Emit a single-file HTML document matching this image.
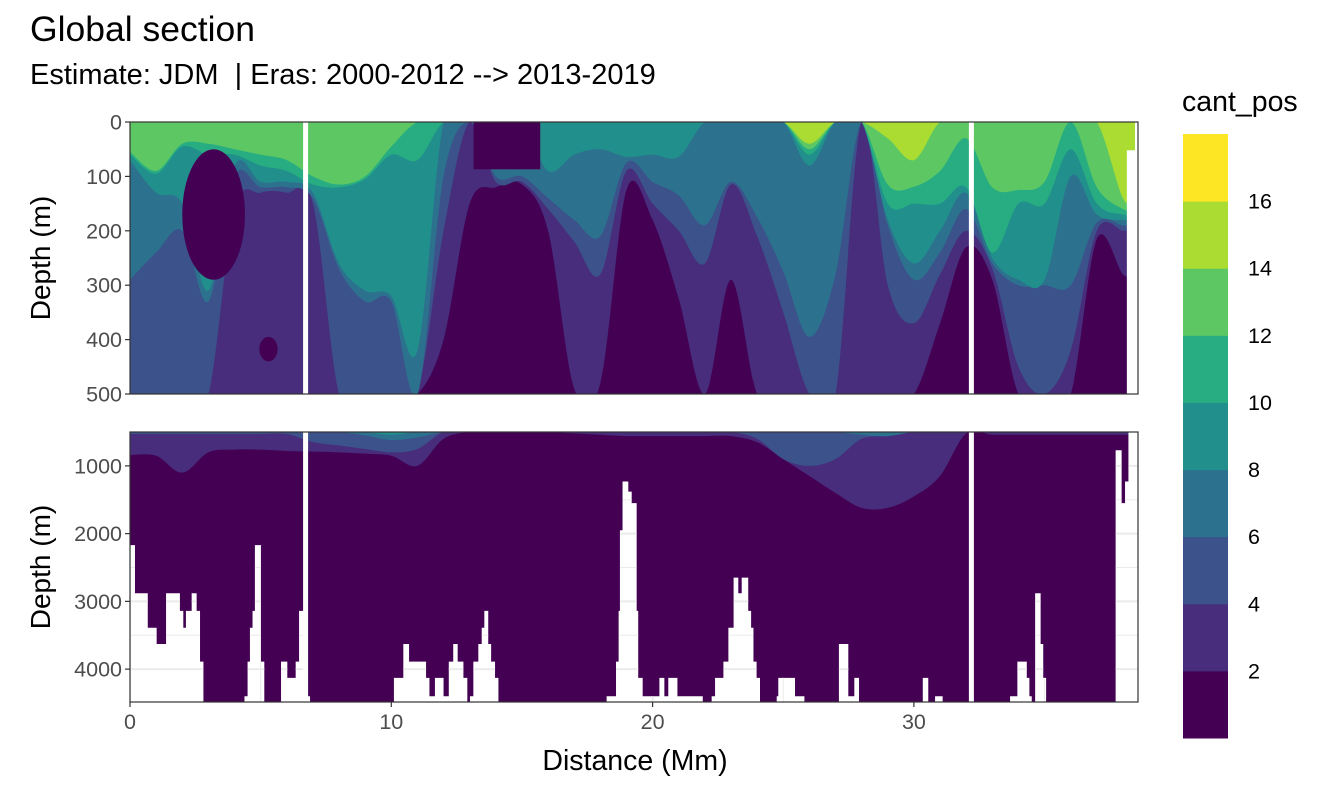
<!DOCTYPE html>
<html><head><meta charset="utf-8"><style>
body{margin:0;background:#fff;font-family:"Liberation Sans",sans-serif}
svg{display:block}
</style></head><body>
<svg id="chart" width="1344" height="806" xmlns="http://www.w3.org/2000/svg">
<text x="30" y="41" font-size="35.5" fill="#000">Global section</text>
<text x="30" y="84" font-size="29" fill="#000" xml:space="preserve" style="white-space:pre">Estimate: JDM  | Eras: 2000-2012 --&gt; 2013-2019</text>
<g id="topPanel"></g>
<g id="botPanel"></g>
<g id="axes"></g>
<g id="legend"></g>
</svg>
<script>
// ---- data ----
const stations=[0,1,2,3,4,5,6,7,8,9,10,11,12,13,14,15,16,17,18,19,20,21,22,23,24,25,26,27,28,29,30,31,32,33,34,35,36,37,38];
const d2 =[500,500,500,500,500,500,500,500,500,500,500,500,400,150,120,115,200,490,480,125,180,325,500,290,500,500,500,500,500,500,500,370,230,290,500,500,500,215,280];
const d4 =[500,500,500,500,160,130,130,150,500,500,500,500,200,0,110,110,160,220,280,90,150,200,260,115,210,350,500,500,0,300,370,280,200,270,450,500,420,200,200];
const d6 =[290,240,200,330,100,120,120,140,270,330,330,500,100,0,100,100,140,180,210,75,110,135,190,110,175,275,395,280,0,190,290,240,160,260,300,300,300,185,190];
const d8 =[70,130,150,310,80,110,110,130,260,310,320,420,0,0,0,0,90,60,50,64,60,64,0,0,0,0,80,0,0,180,260,200,130,250,290,290,100,170,180];
const d10=[60,95,45,60,60,80,90,115,120,105,60,70,0,0,0,0,0,0,0,0,0,0,0,0,0,0,60,0,0,150,150,150,120,240,150,150,50,150,170];
const d12=[55,90,40,40,50,60,70,100,115,100,45,0,0,0,0,0,0,0,0,0,0,0,0,0,0,0,50,0,0,115,119,90,30,120,125,110,0,120,160];
const d14=[0,0,0,0,0,0,0,0,0,0,0,0,0,0,0,0,0,0,0,0,0,0,0,0,0,0,40,0,0,30,70,0,0,0,0,0,0,0,140];
const blobX=[3.2,5.3];
const blobTop=[50,395];
const blobBottom=[290,440];
const blobHalfWidth=[1.2,0.35];
const capX0=13.15, capX1=15.7, capDepth=87;
const b2=[840,850,1100,800,760,760,780,790,800,820,850,1000,600,500,500,500,500,520,540,560,560,560,560,560,650,900,1150,1400,1620,1620,1450,1150,520,540,540,540,540,540,540];
const b4=[530,530,530,530,530,530,530,650,700,750,800,750,500,500,500,500,500,500,500,500,500,500,500,500,600,900,1000,900,600,560,500,500,500,500,500,500,500,500,500];
const b6=[500,500,500,500,500,500,500,500,500,550,620,580,500,500,500,500,500,500,500,500,500,500,500,500,500,500,500,500,540,560,500,500,500,500,500,500,500,500,500];
const b8=[500,500,500,500,500,500,500,500,500,500,540,500,500,500,500,500,500,500,500,500,500,500,500,500,500,500,500,500,500,500,500,500,500,500,500,500,500,500,500];
const floorX=[0,0.19,0.68,1.02,1.38,1.91,2.04,2.14,2.36,2.55,2.68,2.81,4.38,4.50,4.59,4.69,4.78,5.01,5.14,5.78,6.02,6.34,6.47,6.76,6.89,10.1,10.46,10.68,11.33,11.46,11.67,12.0,12.2,12.37,12.54,12.76,12.91,13.01,13.14,13.33,13.46,13.56,13.71,13.82,13.97,14.1,18.24,18.6,18.7,18.75,18.85,19.07,19.2,19.39,19.45,19.62,20.26,20.45,20.6,20.95,21.92,22.26,22.39,22.71,22.9,23.1,23.28,23.41,23.66,23.77,23.86,23.98,24.11,24.75,24.81,25.45,25.81,27.13,27.49,27.72,27.9,30.34,30.55,30.81,31.1,33.68,33.96,34.32,34.42,34.51,34.64,34.85,34.95,35.06,37.72,37.95,38.08,38.21];
const floorD=[2170,2880,3390,3630,2880,3140,3390,3140,2880,3140,3890,4500,4400,3890,3390,3140,2170,3890,4500,3890,4130,3890,3140,4400,4500,4130,3630,3890,4130,4400,4130,4400,3890,3630,3890,4130,4500,4400,3890,3630,3390,3140,3630,3890,4130,4500,4400,3890,3140,1950,1230,1380,1550,3140,4130,4400,4130,4400,4130,4400,4500,4400,4130,3890,3390,2650,2880,2650,3140,3390,3890,4130,4500,4400,4130,4400,4500,3630,4400,4130,4500,4130,4500,4400,4500,4400,3890,4130,4400,4500,2880,3630,4130,4500,770,1550,1230,500];
const gapX=[6.72,32.2];
const xMax=38.46;
const topFloorX=38.15, topFloorD=52;
const xTicks=[0,10,20,30];
const topTicks=[0,100,200,300,400,500];
const botTicks=[1000,2000,3000,4000];
const legendBreaks=[2,4,6,8,10,12,14,16];
const colors=["#440154","#472D7B","#3B528B","#2C728E","#21908C","#27AD81","#5DC863","#AADC32","#FDE725"];

// ---- scales ----
const X0=130,X1=1138,pxPerMm=26.13;
const xs=v=>X0+v*pxPerMm;
const T0=122,T1=394; const yT=d=>T0+d/500*(T1-T0);
const B0=432,B1=702; const yB=d=>B0+(d-500)/1000*67.75;
const NS="http://www.w3.org/2000/svg";
function mk(tag,attrs,parent){const e=document.createElementNS(NS,tag);for(const k in attrs)e.setAttribute(k,attrs[k]);parent.appendChild(e);return e;}

function boundaryPath(arr,ys,base){
  const pts=stations.map((s,i)=>[xs(s),ys(arr[i])]);
  pts.push([xs(xMax),ys(arr[arr.length-1])]);
  let p=`M${xs(0)},${ys(base)} L${pts[0][0]},${pts[0][1]}`;
  for(let i=0;i<pts.length-1;i++){
    const p0=pts[Math.max(0,i-1)],p1=pts[i],p2=pts[i+1],p3=pts[Math.min(pts.length-1,i+2)];
    const c1=[p1[0]+(p2[0]-p0[0])/6,p1[1]+(p2[1]-p0[1])/6];
    const c2=[p2[0]-(p3[0]-p1[0])/6,p2[1]-(p3[1]-p1[1])/6];
    p+=` C${c1[0]},${c1[1]} ${c2[0]},${c2[1]} ${p2[0]},${p2[1]}`;
  }
  p+=` L${xs(xMax)},${ys(base)} Z`;
  return p;
}

// ---- top panel ----
const topG=document.getElementById('topPanel');
const ctop=mk('clipPath',{id:'ctop'},topG);
mk('rect',{x:X0,y:T0,width:xs(xMax)-X0,height:T1-T0},ctop);
const tg=mk('g',{'clip-path':'url(#ctop)'},topG);
const bgT=mk('rect',{x:X0,y:T0,width:xs(xMax)-X0,height:T1-T0,fill:colors[0]},tg);


[d2,d4,d6,d8,d10,d12,d14].forEach((arr,k)=>{
  const p=mk('path',{d:boundaryPath(arr,yT,0),fill:colors[k+1]},tg);
  
  
});
blobX.forEach((bx,i)=>{
  const cy=(yT(blobTop[i])+yT(blobBottom[i]))/2, ry=(yT(blobBottom[i])-yT(blobTop[i]))/2;
  const e=mk('ellipse',{cx:xs(bx),cy:cy,rx:blobHalfWidth[i]*pxPerMm,ry:ry,fill:colors[0]},tg);
  
  
});
const cap=mk('rect',{x:xs(capX0),y:T0,width:xs(capX1)-xs(capX0),height:yT(capDepth)-T0,fill:colors[0]},tg);


const wT=mk('rect',{x:xs(topFloorX),y:yT(topFloorD),width:xs(xMax)-xs(topFloorX)+2,height:T1-yT(topFloorD),fill:'#fff'},tg);


gapX.forEach(g=>{const r=mk('rect',{x:xs(g)-2.5,y:T0,width:5,height:T1-T0,fill:'#fff'},topG);
  
  });
mk('rect',{x:X0,y:T0,width:X1-X0,height:T1-T0,fill:'none',stroke:'#333','stroke-width':1.2},topG);

// ---- bottom panel ----
const botG=document.getElementById('botPanel');
const cb=mk('clipPath',{id:'cbot'},botG);
mk('rect',{x:X0,y:B0,width:xs(xMax)-X0,height:B1-B0},cb);
const bgG=mk('g',{'clip-path':'url(#cbot)'},botG);
const bgB=mk('rect',{x:X0,y:B0,width:xs(xMax)-X0,height:B1-B0,fill:colors[0]},bgG);


[b2,b4,b6,b8].forEach((arr,k)=>{
  const p=mk('path',{d:boundaryPath(arr,yB,500),fill:colors[k+1]},bgG);
  
  
});
let fp='';
floorX.forEach((fx,i)=>{
  const x1=xs(fx), x2=(i<floorX.length-1)?xs(floorX[i+1]):xs(xMax)+3;
  const y=yB(floorD[i]);
  if(floorD[i]<4500) fp+=`M${x1},${y}H${x2}V${B1}H${x1}Z `;
});
fp+=`M${xs(xMax)},${B0}H${X1}V${B1}H${xs(xMax)}Z`;
const fcl=mk('clipPath',{id:'cfloor'},botG); mk('path',{d:fp},fcl);
const fl=mk('path',{d:fp,fill:'#fff'},botG);


const gridG=mk('g',{'clip-path':'url(#cfloor)'},botG);
[1000,1500,2000,2500,3000,3500,4000,4500].forEach(d=>mk('line',{x1:X0,x2:X1,y1:yB(d),y2:yB(d),stroke:'#ebebeb','stroke-width':d%1000?1:2},gridG));
[0,5,10,15,20,25,30,35].forEach(v=>mk('line',{x1:xs(v),x2:xs(v),y1:B0,y2:B1,stroke:'#ebebeb','stroke-width':v%10?1:2},gridG));
gapX.forEach(g=>{const r=mk('rect',{x:xs(g)-2.5,y:B0,width:5,height:B1-B0,fill:'#fff'},botG);
  
  });
mk('rect',{x:X0,y:B0,width:X1-X0,height:B1-B0,fill:'none',stroke:'#333','stroke-width':1.2},botG);

// ---- axes ----
const ax=document.getElementById('axes');
topTicks.forEach(t=>{mk('line',{x1:X0-5,x2:X0,y1:yT(t),y2:yT(t),stroke:'#333','stroke-width':1.2},ax);
  const tx=mk('text',{x:X0-8,y:yT(t)+7.5,'text-anchor':'end','font-size':21.5,fill:'#4d4d4d'},ax);tx.textContent=t;
  
  });
botTicks.forEach(t=>{mk('line',{x1:X0-5,x2:X0,y1:yB(t),y2:yB(t),stroke:'#333','stroke-width':1.2},ax);
  const tx=mk('text',{x:X0-8,y:yB(t)+7.5,'text-anchor':'end','font-size':21.5,fill:'#4d4d4d'},ax);tx.textContent=t;
  
  });
xTicks.forEach(t=>{mk('line',{x1:xs(t),x2:xs(t),y1:B1,y2:B1+5,stroke:'#333','stroke-width':1.2},ax);
  const tx=mk('text',{x:xs(t),y:B1+27,'text-anchor':'middle','font-size':21.5,fill:'#4d4d4d'},ax);tx.textContent=t;
  
  });
[[258,'upper'],[567,'lower']].forEach(([cy,n])=>{const t=mk('text',{x:0,y:0,transform:`translate(50,${cy}) rotate(-90)`,'text-anchor':'middle','font-size':28,fill:'#000'},ax);t.textContent='Depth (m)';
  
  });
const xt=mk('text',{x:635,y:770,'text-anchor':'middle','font-size':28.5,fill:'#000'},ax);xt.textContent='Distance (Mm)';



// ---- legend ----
const lg=document.getElementById('legend');
const lt=mk('text',{x:1182,y:111,'font-size':28.5,fill:'#000'},lg);lt.textContent='cant_pos';


const LB0=134,LB1=738,bh=(LB1-LB0)/colors.length;
colors.forEach((c,i)=>{const r=mk('rect',{x:1183,y:LB1-(i+1)*bh,width:45,height:bh+0.5,fill:c},lg);
  
  });
legendBreaks.forEach((b,i)=>{const t=mk('text',{x:1248,y:LB1-(i+1)*bh+7.5,'font-size':21.5,fill:'#000'},lg);t.textContent=b;
  
  });
</script>
</body></html>
